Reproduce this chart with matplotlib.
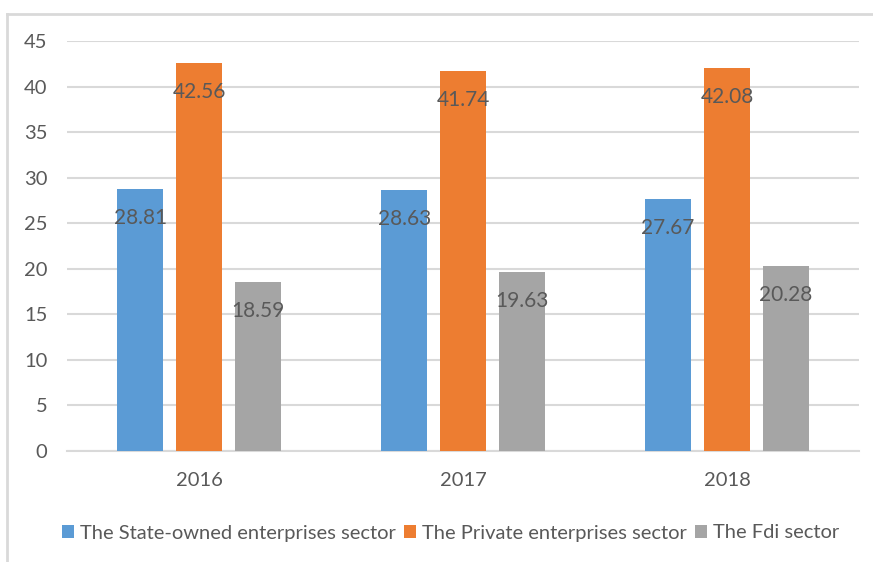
import matplotlib
matplotlib.use("Agg")
import matplotlib.pyplot as plt
from matplotlib.lines import Line2D
from matplotlib.patches import Patch
import numpy as np

years = ["2016", "2017", "2018"]
series_names = ["The State-owned enterprises sector",
                "The Private enterprises sector",
                "The Fdi sector"]
state_owned = [28.81, 28.63, 27.67]
private = [42.56, 41.74, 42.08]
fdi = [18.59, 19.63, 20.28]
y_ticks = [0, 5, 10, 15, 20, 25, 30, 35, 40, 45]

colors = ["#5B9BD5", "#ED7D31", "#A5A5A5"]
text_color = "#595959"
grid_color = "#D9D9D9"

plt.rcParams["font.family"] = ["Lato", "DejaVu Sans"]

W, H = 873, 562
fig = plt.figure(figsize=(W / 100, H / 100), dpi=100)
ax = fig.add_axes([67 / W, 1 - 451 / H, (859 - 67) / W, (451 - 41) / H])

x = np.arange(len(years))
bar_w = 0.174
step = 0.223
for i, (vals, col) in enumerate(zip([state_owned, private, fdi], colors)):
    pos = x + (i - 1) * step
    bars = ax.bar(pos, vals, width=bar_w, color=col, zorder=3)
    for b, v in zip(bars, vals):
        ax.annotate(f"{v:.2f}", (b.get_x() + b.get_width() / 2, v),
                    xytext=(0, -29), textcoords="offset pixels",
                    ha="center", va="center", fontsize=15,
                    color=text_color, zorder=4)

ax.set_xlim(-0.5, 2.5)
ax.set_ylim(0, 45)
ax.set_yticks(y_ticks)
ax.set_xticks(x)
ax.set_xticklabels(years)
ax.tick_params(axis="both", length=0, labelsize=14.5, colors=text_color)
ax.tick_params(axis="y", pad=14)
ax.tick_params(axis="x", pad=15)
ax.yaxis.grid(True, color=grid_color, linewidth=1.5, zorder=0)
ax.set_axisbelow(True)
for s in ["top", "right", "left"]:
    ax.spines[s].set_visible(False)
ax.spines["bottom"].set_color(grid_color)
ax.spines["bottom"].set_linewidth(1.5)

handles = [Patch(facecolor=c) for c in colors]
fig.legend(handles, series_names, loc="center", bbox_to_anchor=(451 / W, 1 - 533 / H),
           ncol=3, frameon=False, fontsize=14.5, labelcolor=text_color,
           handlelength=0.6, handleheight=0.6, handletextpad=0.3,
           columnspacing=0.4)

# chart frame (top and left edges)
fig.add_artist(Line2D([7 / W, 1], [1 - 14 / H, 1 - 14 / H], color="#D9D9D9", lw=2,
                      transform=fig.transFigure))
fig.add_artist(Line2D([7 / W, 7 / W], [0, 1 - 14 / H], color="#D9D9D9", lw=2,
                      transform=fig.transFigure))

fig.savefig("out.png", dpi=100, facecolor="white")
